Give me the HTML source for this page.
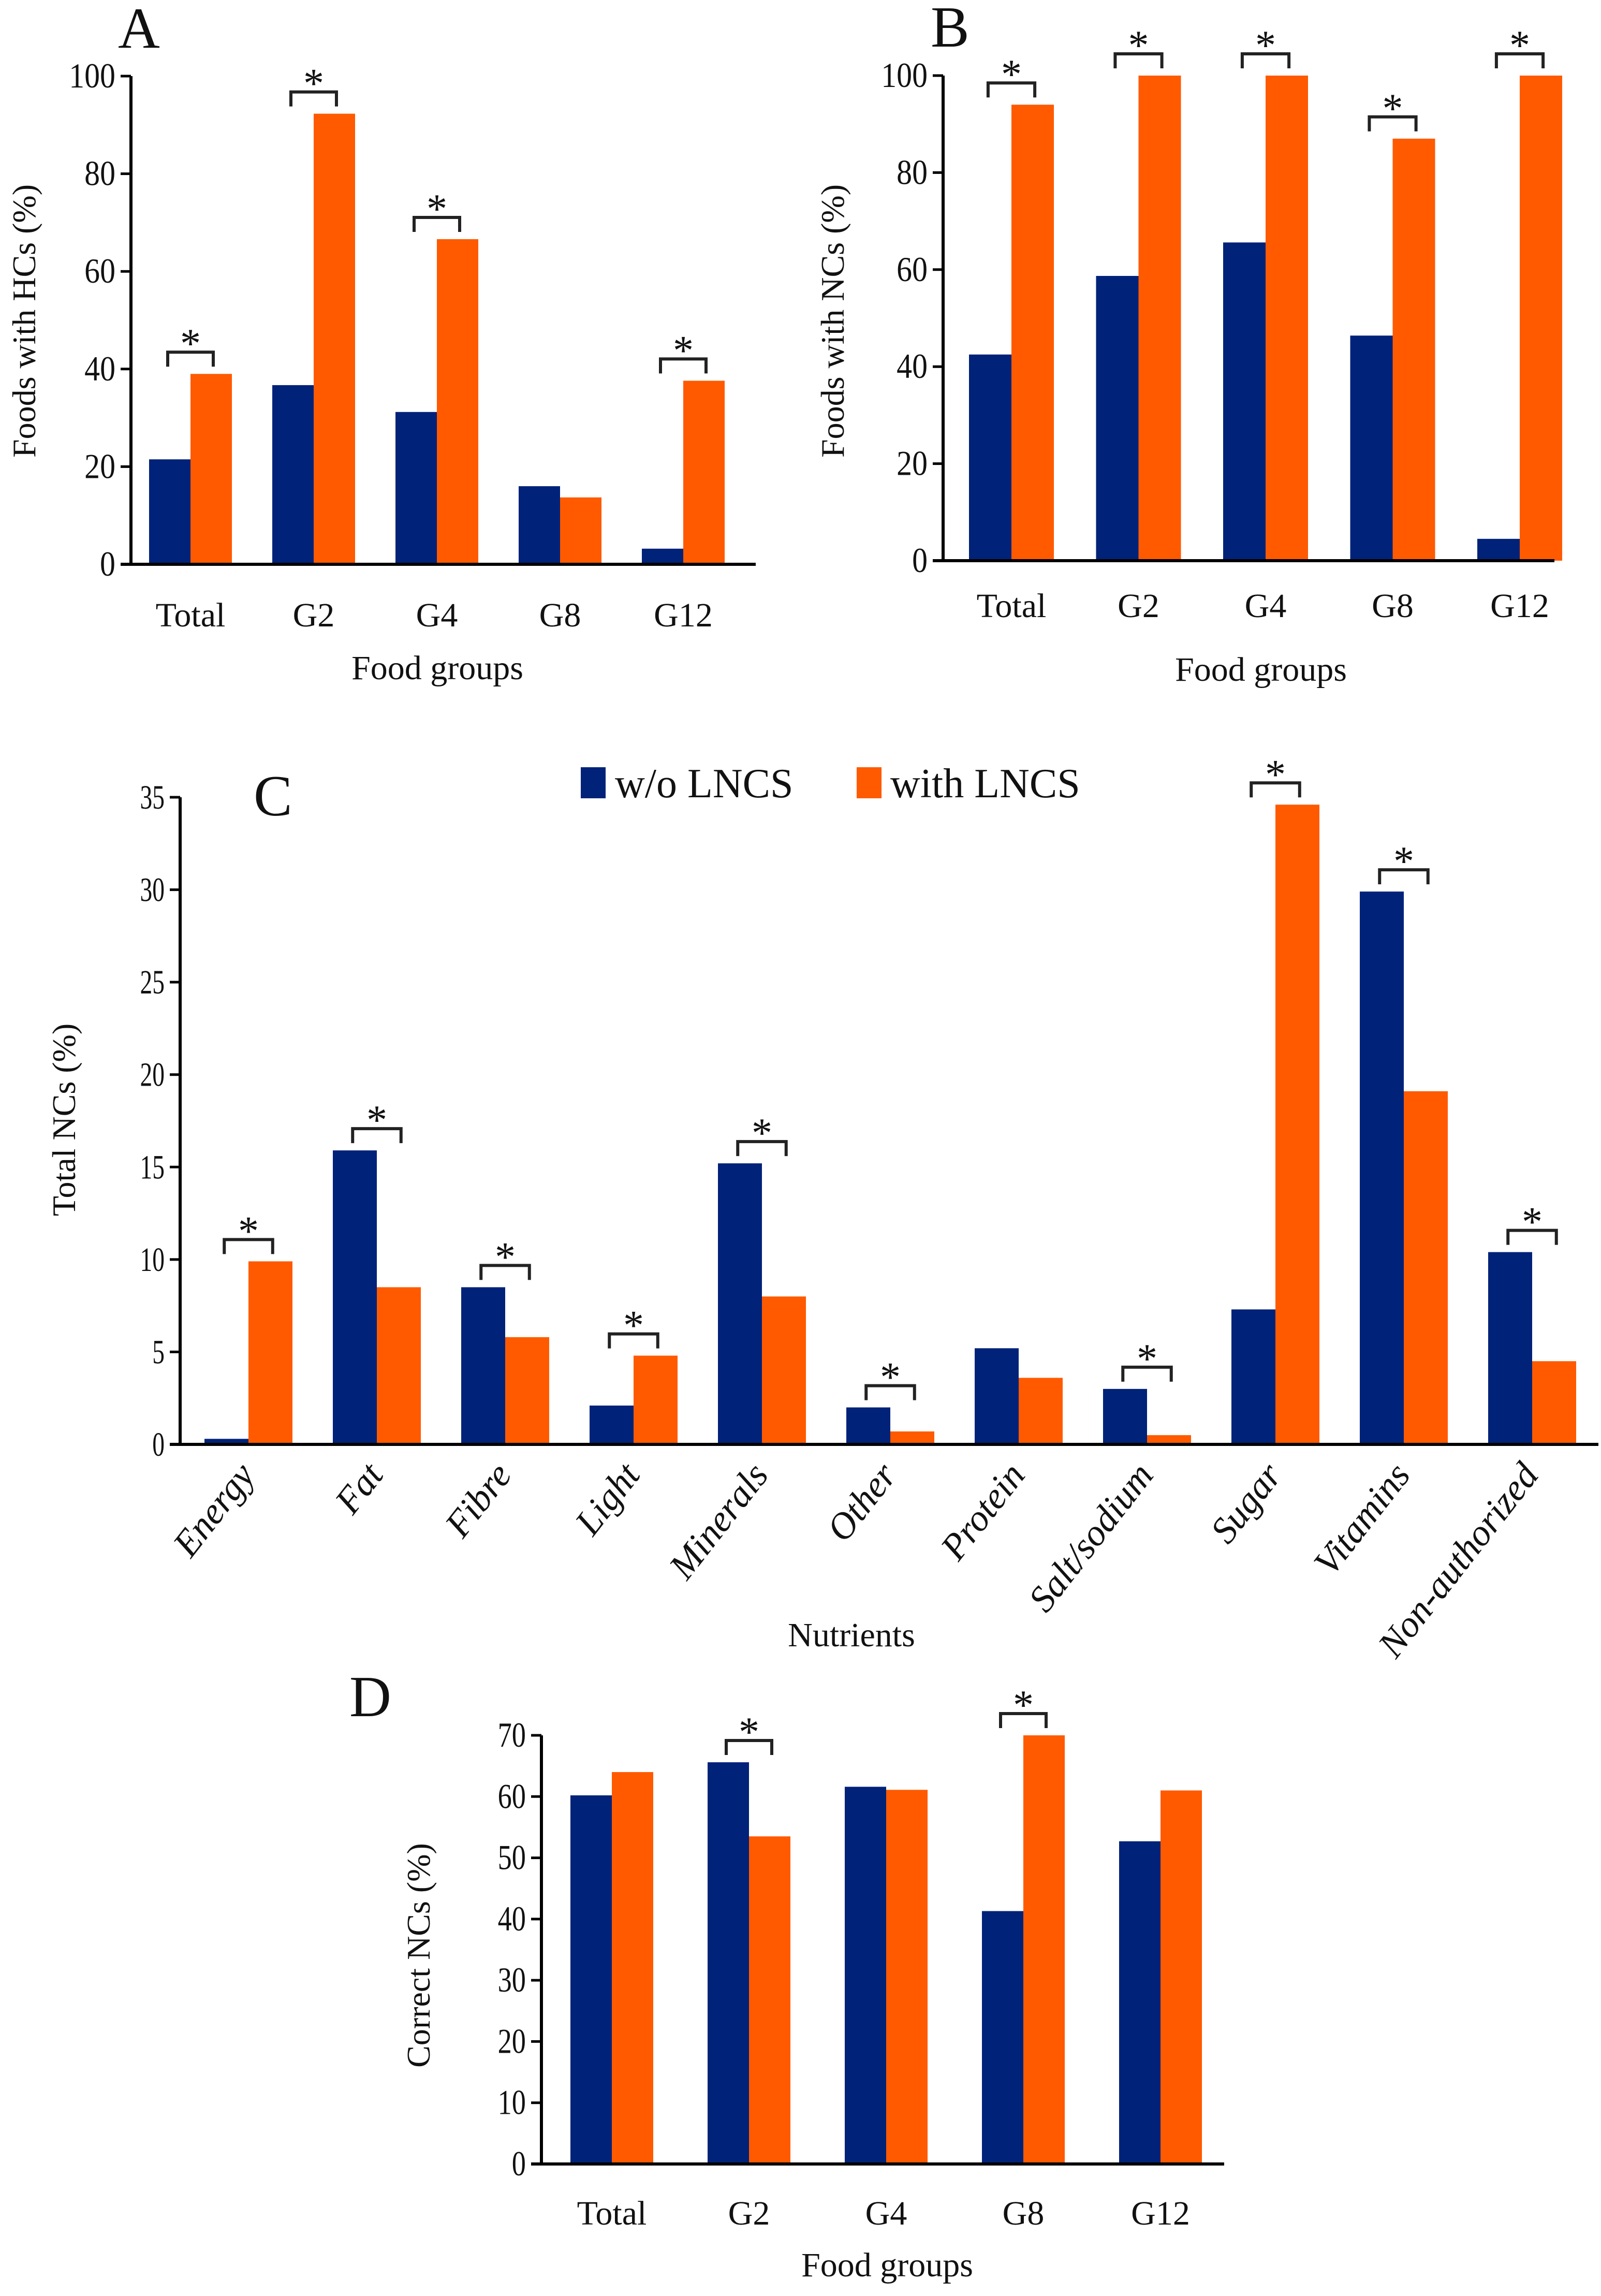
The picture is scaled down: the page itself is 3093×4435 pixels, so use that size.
<!DOCTYPE html>
<html><head><meta charset="utf-8"><style>
html,body{margin:0;padding:0;background:#fff;}
svg{display:block;font-family:"Liberation Serif",serif;}
</style></head><body>
<svg id="fig" width="3093" height="4435" viewBox="0 0 3093 4435" xmlns="http://www.w3.org/2000/svg"></svg>
<script>
const groupCats = ["Total","G2","G4","G8","G12"];
const aBlue = [21.5,36.7,31.2,16.0,3.2];
const aOrange = [39.0,92.3,66.6,13.7,37.6];
const aSig = [1,1,1,0,1];
const aTicks = [0,20,40,60,80,100];

const bBlue = [42.5,58.7,65.6,46.4,4.5];
const bOrange = [94.0,100,100,87.0,100];
const bSig = [1,1,1,1,1];
const bTicks = [0,20,40,60,80,100];

const nutrients = ["Energy","Fat","Fibre","Light","Minerals","Other","Protein","Salt/sodium","Sugar","Vitamins","Non-authorized"];
const cBlue = [0.3,15.9,8.5,2.1,15.2,2.0,5.2,3.0,7.3,29.9,10.4];
const cOrange = [9.9,8.5,5.8,4.8,8.0,0.7,3.6,0.5,34.6,19.1,4.5];
const cSig = [1,1,1,1,1,1,0,1,1,1,1];
const cTicks = [0,5,10,15,20,25,30,35];

const dBlue = [60.2,65.6,61.6,41.3,52.7];
const dOrange = [64.0,53.5,61.1,70.0,61.0];
const dSig = [0,1,0,1,0];
const dTicks = [0,10,20,30,40,50,60,70];

const NS="http://www.w3.org/2000/svg";
const svg=document.getElementById('fig');
const BLUE="#002279", ORANGE="#FF5A00";
function mk(tag,attrs,parent){const e=document.createElementNS(NS,tag);for(const k in attrs)e.setAttribute(k,attrs[k]);(parent||svg).appendChild(e);return e;}
function txt(s,attrs,parent){const e=mk('text',attrs,parent);e.textContent=s;return e;}

function chart(o){
  const g=mk('g',{});
  
  
  const y=v=>o.y0-(v/o.vmax)*(o.y0-o.ytop);
  const x=i=>o.c0+i*o.step;
  o.cats.forEach((c,i)=>{
    const b=mk('rect',{x:x(i)-o.bw,y:y(o.blue[i]),width:o.bw,height:o.y0-y(o.blue[i]),fill:BLUE},g);
    
    
    const r=mk('rect',{x:x(i),y:y(o.orange[i]),width:o.bw,height:o.y0-y(o.orange[i]),fill:ORANGE},g);
    
    
    if(o.sig[i]){
      const top=Math.min(y(o.blue[i]),y(o.orange[i]))-42;
      const x1=x(i)-o.bw*0.55,x2=x(i)+o.bw*0.55;
      const br=mk('path',{d:`M${x1},${top+28}V${top}H${x2}V${top+28}`,fill:'none',stroke:'#222',"stroke-width":6},g);
      
      
      const st=txt('*',{x:x(i),y:top+10,"font-size":80,"text-anchor":"middle",fill:'#111'},g);
      
      
    }
  });
  const ya=mk('line',{x1:o.ax,y1:o.ytop,x2:o.ax,y2:o.y0,stroke:'#000',"stroke-width":6},g);
  
  const xa=mk('line',{x1:o.ax-20,y1:o.y0,x2:o.xend,y2:o.y0,stroke:'#000',"stroke-width":6},g);
  
  o.ticks.forEach(t=>{
    const tl=mk('line',{x1:o.ax-20,y1:y(t),x2:o.ax,y2:y(t),stroke:'#000',"stroke-width":5},g);
    
    const tt=txt(String(t),{x:o.ax-30,y:y(t)+22,"font-size":o.tickFs,"text-anchor":"end",fill:'#111',transform:`translate(${o.ax-30},0) scale(${o.tickSx},1) translate(${-(o.ax-30)},0)`},g);
    
  });
  o.cats.forEach((c,i)=>{
    let t;
    if(o.rotate){
      t=txt(c,{x:x(i)+15,y:o.labelY,"font-size":72,"text-anchor":"end",fill:'#111',"font-style":"italic",transform:`rotate(-52 ${x(i)+15} ${o.labelY})`},g);
    }else{
      t=txt(c,{x:x(i),y:o.labelY,"font-size":66,"text-anchor":"middle",fill:'#111'},g);
    }
    
  });
  const xt=txt(o.xtitle,{x:o.xtx,y:o.xty,"font-size":66,"text-anchor":"middle",fill:'#111'},g);
  
  const yt=txt(o.ytitle,{x:0,y:0,"font-size":64,"text-anchor":"middle",fill:'#111',transform:`translate(${o.ytx},${o.yty}) rotate(-90)`},g);
  
  const pl=txt(o.letter,{x:o.lx,y:o.ly,"font-size":112,fill:'#111'},g);
  
}

chart({name:'chart-a',cats:groupCats,blue:aBlue,orange:aOrange,sig:aSig,ticks:aTicks,vmax:100,
  ax:253,y0:1090,ytop:147,xend:1460,c0:368,step:238,bw:80,tickFs:68,tickSx:0.88,labelY:1210,
  xtitle:'Food groups',xtx:845,xty:1312,ytitle:'Foods with HCs (%)',ytx:68,yty:620,letter:'A',lx:228,ly:92});
chart({name:'chart-b',cats:groupCats,blue:bBlue,orange:bOrange,sig:bSig,ticks:bTicks,vmax:100,
  ax:1822,y0:1083,ytop:146,xend:3003,c0:1954,step:245.5,bw:82,tickFs:68,tickSx:0.88,labelY:1192,
  xtitle:'Food groups',xtx:2436,xty:1315,ytitle:'Foods with NCs (%)',ytx:1630,yty:620,letter:'B',lx:1798,ly:90});
chart({name:'chart-c',cats:nutrients,blue:cBlue,orange:cOrange,sig:cSig,ticks:cTicks,vmax:35,
  ax:348,y0:2790,ytop:1540,xend:3088,c0:480,step:248,bw:85,tickFs:66,tickSx:0.72,labelY:2850,rotate:true,
  xtitle:'Nutrients',xtx:1645,xty:3180,ytitle:'Total NCs (%)',ytx:145,yty:2163,letter:'C',lx:490,ly:1575});
chart({name:'chart-d',cats:groupCats,blue:dBlue,orange:dOrange,sig:dSig,ticks:dTicks,vmax:70,
  ax:1046,y0:4180,ytop:3352,xend:2365,c0:1182,step:265,bw:80,tickFs:68,tickSx:0.8,labelY:4297,
  xtitle:'Food groups',xtx:1714,xty:4397,ytitle:'Correct NCs (%)',ytx:830,yty:3777,letter:'D',lx:675,ly:3315});

const lg=mk('g',{});


const l1=mk('rect',{x:1122,y:1482,width:48,height:60,fill:BLUE},lg);

const t1=txt('w/o LNCS',{x:1188,y:1540,"font-size":80,fill:'#111'},lg);

const l2=mk('rect',{x:1655,y:1482,width:48,height:60,fill:ORANGE},lg);

const t2=txt('with LNCS',{x:1720,y:1540,"font-size":80,fill:'#111'},lg);

</script>
</body></html>
